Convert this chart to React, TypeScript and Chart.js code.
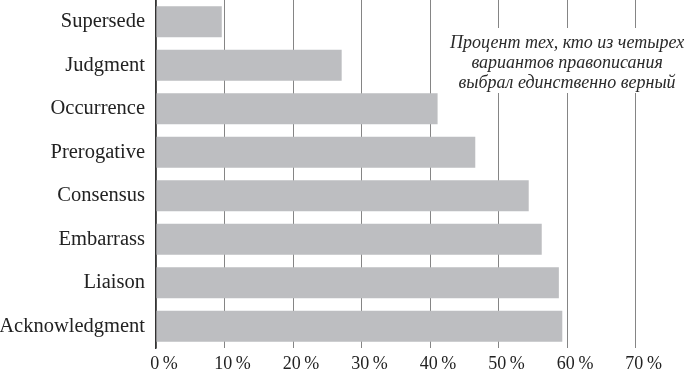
import React, { useEffect, useRef } from "react";
import { Chart, registerables } from "chart.js";

Chart.register(...registerables);

const CATEGORIES = ["Supersede", "Judgment", "Occurrence", "Prerogative", "Consensus", "Embarrass", "Liaison", "Acknowledgment"];
const VALUES = [9.6, 27.1, 41.1, 46.6, 54.4, 56.3, 58.8, 59.3];
const X_TICKS = [0, 10, 20, 30, 40, 50, 60, 70];
const NOTE_LINES = ["Процент тех, кто из четырех", "вариантов правописания", "выбрал единственно верный"];

const notePlugin = {
  id: "note",
  beforeDatasetsDraw(chart: any) {
    const ctx = chart.ctx;
    const xs = chart.scales.x;
    const cx = xs.getPixelForValue(60);
    ctx.save();
    ctx.fillStyle = "#ffffff";
    ctx.fillRect(cx - 122, 28, 244, 65);
    ctx.font = "italic 18px 'Liberation Serif'";
    ctx.fillStyle = "#2a2a2a";
    ctx.textAlign = "center";
    ctx.textBaseline = "middle";
    NOTE_LINES.forEach((t, i) => ctx.fillText(t, cx, 43 + i * 20));
    ctx.restore();
  },
};

export default function App() {
  const ref = useRef<HTMLCanvasElement>(null);
  useEffect(() => {
    document.body.style.margin = "0";
    const chart = new Chart(ref.current!, {
      type: "bar",
      data: {
        labels: CATEGORIES,
        datasets: [
          {
            data: VALUES,
            backgroundColor: "#bdbec1",
            borderWidth: 0,
            barPercentage: 0.71,
            categoryPercentage: 1,
          },
        ],
      },
      options: {
        indexAxis: "y",
        animation: false,
        responsive: false,
        layout: { padding: 0 },
        plugins: { legend: { display: false }, tooltip: { enabled: false } },
        scales: {
          x: {
            min: 0,
            max: 79.4,
            afterBuildTicks: (s: any) => {
              s.ticks = X_TICKS.map((v) => ({ value: v }));
            },
            afterFit: (s: any) => {
              s.height = 21;
              s.paddingLeft = 0;
              s.paddingRight = 0;
            },
            grid: { color: "#858585", lineWidth: 1, drawTicks: false },
            border: { display: false },
            ticks: {
              padding: 5,
              labelOffset: 8,
              color: "#222",
              font: { family: "'Liberation Serif'", size: 18 },
              callback: (v: any) => v + "\u2009%",
            },
          },
          y: {
            afterFit: (s: any) => {
              s.width = 156;
              s.paddingTop = 0;
              s.paddingBottom = 0;
            },
            grid: { display: false, drawTicks: false },
            border: { display: true, color: "#333", width: 1.5 },
            ticks: {
              padding: 11,
              color: "#222",
              font: { family: "'Liberation Serif'", size: 20.5 },
            },
          },
        },
      },
      plugins: [notePlugin],
    });
    return () => chart.destroy();
  }, []);
  return (
    <div style={{ width: 700, height: 369 }}>
      <canvas ref={ref} width={700} height={369} style={{ display: "block" }} />
    </div>
  );
}
